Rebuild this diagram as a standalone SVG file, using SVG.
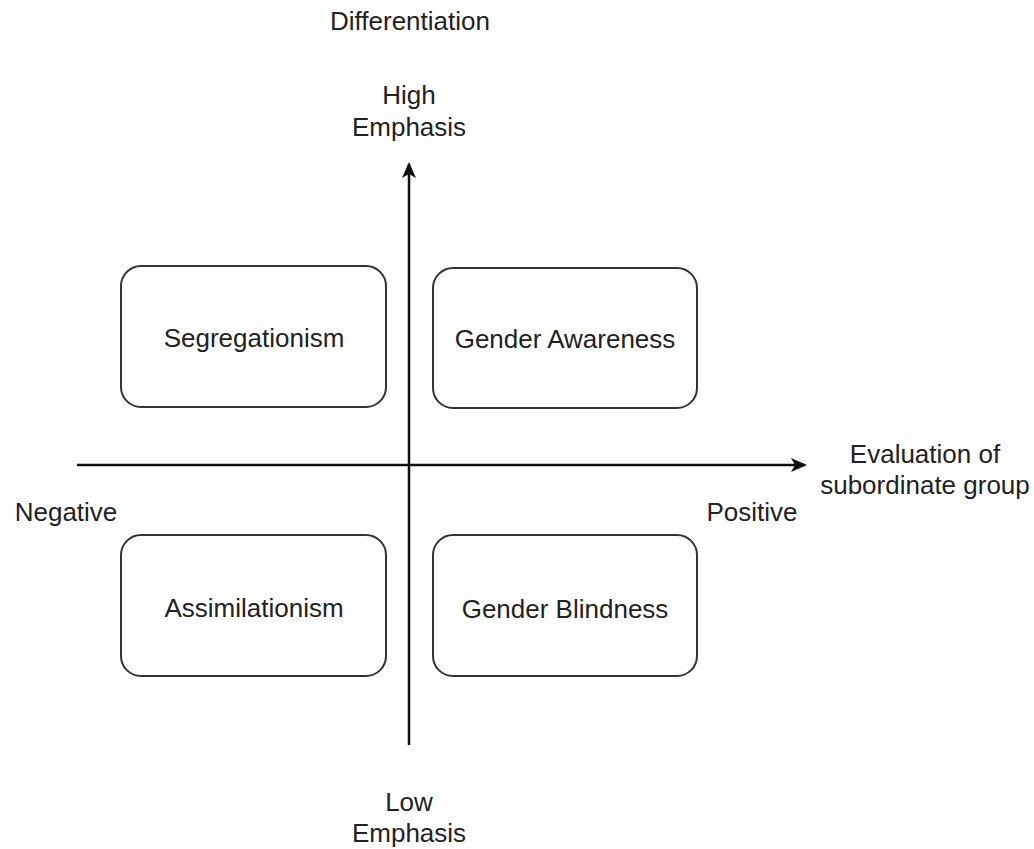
<svg xmlns="http://www.w3.org/2000/svg" width="1034" height="849" viewBox="0 0 1034 849">
<style>
text{font-family:"Liberation Sans",Arial,sans-serif;font-size:26px;fill:#222;text-anchor:middle}
.box{fill:#fff;stroke:#333;stroke-width:2}
.ax{stroke:#111;stroke-width:2.5;fill:none}
</style>
<defs>
<marker id="ah" markerWidth="16" markerHeight="14" refX="14" refY="7" orient="auto" markerUnits="userSpaceOnUse" viewBox="0 0 16 14">
<path d="M0,0 L16,7 L0,14 L4,7 Z" fill="#111"/>
</marker>
</defs>
<rect width="1034" height="849" fill="#fff"/>
<g id="connectors">
<line class="ax" x1="409" y1="745" x2="409" y2="164" marker-end="url(#ah)"/>
<line class="ax" x1="77" y1="465" x2="805" y2="465" marker-end="url(#ah)"/>
</g>
<g id="seg"><rect class="box" x="121" y="266" width="265" height="141" rx="20"/><text x="254" y="347">Segregationism</text></g>
<g id="aware"><rect class="box" x="433" y="268" width="264" height="140" rx="20"/><text x="565" y="348">Gender Awareness</text></g>
<g id="assim"><rect class="box" x="121" y="535" width="265" height="141" rx="20"/><text x="254" y="617">Assimilationism</text></g>
<g id="blind"><rect class="box" x="433" y="535" width="264" height="141" rx="20"/><text x="565" y="618">Gender Blindness</text></g>
<g id="labels">
<text x="410" y="30">Differentiation</text>
<text x="409" y="104">High</text>
<text x="409" y="136">Emphasis</text>
<text x="925" y="463">Evaluation of</text>
<text x="925" y="494">subordinate group</text>
<text x="66" y="521">Negative</text>
<text x="752" y="521">Positive</text>
<text x="409" y="811">Low</text>
<text x="409" y="842">Emphasis</text>
</g>
</svg>
